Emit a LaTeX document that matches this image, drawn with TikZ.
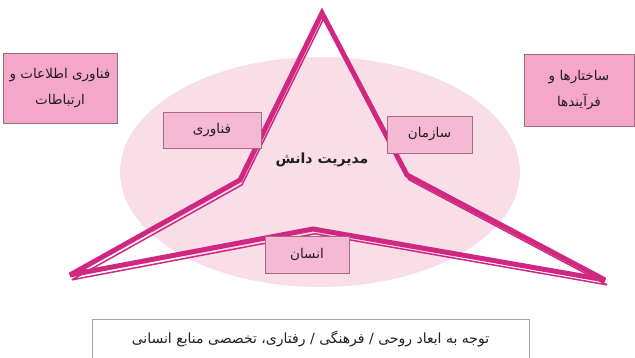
\documentclass[tikz,border=0pt]{standalone}
\usepackage{fontspec}
\newfontfamily\arabicfont[Script=Arabic]{DejaVu Sans}
\TeXXeTstate=1
\definecolor{starpink}{HTML}{D02882}
\definecolor{ellpink}{HTML}{F9DDE7}
\definecolor{inbox}{HTML}{F6B9D3}
\definecolor{inboxline}{HTML}{A86A87}
\definecolor{outbox}{HTML}{F4A7C9}
\definecolor{outboxline}{HTML}{9E6A80}
\definecolor{txt}{HTML}{231F20}
\begin{document}
\begin{tikzpicture}[x=1pt,y=-1pt,
  fa/.style={font=\arabicfont\fontsize{13.5}{26}\selectfont, text=txt, align=center, inner sep=0pt},
  innerbox/.style={fa, draw=inboxline, fill=inbox, line width=0.8pt},
  outerbox/.style={fa, draw=outboxline, fill=outbox, line width=0.8pt},
  thickstar/.style={draw=starpink, line width=5pt, line join=miter, miter limit=6},
  thinstar/.style={draw=starpink, line width=1.5pt, line join=miter, miter limit=6}]
\useasboundingbox (0,0) rectangle (635,358);
\fill[white] (0,0) rectangle (635,358);
% ellipse
\fill[ellpink] (320,172) ellipse [x radius=200, y radius=115];
% star
\coordinate (T) at (322,13);
\coordinate (LI) at (240,180);
\coordinate (L) at (70,275);
\coordinate (BI) at (313,229);
\coordinate (R) at (605,280);
\coordinate (RI) at (407,175);
\draw[thinstar] ([shift={(2,4.8)}]T) -- ([shift={(2,4.8)}]LI) -- ([shift={(2,4.8)}]L) -- ([shift={(2,4.8)}]BI) -- ([shift={(2,4.8)}]R) -- ([shift={(2,4.8)}]RI) -- cycle;
\draw[thickstar] (T) -- (LI) -- (L) -- (BI) -- (R) -- (RI) -- cycle;
% boxes
\node[outerbox, minimum width=114pt, minimum height=70pt] (ict) at (60,88)
  {\beginR فناوری اطلاعات و\endR\\ \beginR ارتباطات\endR};
\node[outerbox, minimum width=110pt, minimum height=72pt] (struct) at (579,90)
  {\beginR ساختارها و\endR\\ \beginR فرآیندها\endR};
\node[innerbox, minimum width=98pt, minimum height=36pt] (tech) at (212,130)
  {\beginR فناوری\endR};
\node[innerbox, minimum width=85pt, minimum height=37pt] (org) at (429.5,134.5)
  {\beginR سازمان\endR};
\node[innerbox, minimum width=84pt, minimum height=37pt] (hum) at (307,254.5)
  {\beginR انسان\endR};
\node[fa, font=\arabicfont\bfseries\fontsize{14}{16}\selectfont] (km) at (322,160)
  {\beginR مدیریت دانش\endR};
\node[fa, draw=gray!70, fill=white, line width=0.8pt, minimum width=437pt, minimum height=43pt] (bottom) at (310.5,340.5) {};
\node[fa, font=\arabicfont\fontsize{14}{16}\selectfont] (bottomtext) at (310.5,339)
  {\beginR توجه به ابعاد روحی / فرهنگی / رفتاری، تخصصی منابع انسانی\endR};
\end{tikzpicture}
\end{document}
